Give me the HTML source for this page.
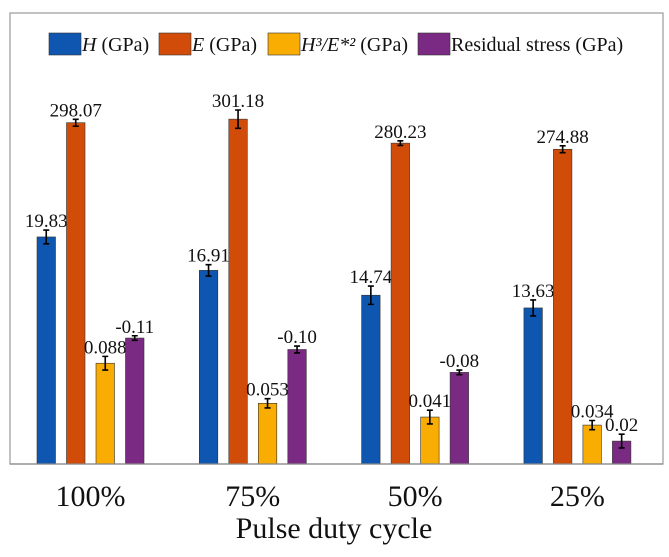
<!DOCTYPE html>
<html><head><meta charset="utf-8"><style>
body{margin:0;background:#fff;}
svg text{font-family:"Liberation Serif",serif;fill:#111;}
</style></head><body>
<svg width="669" height="552" xmlns="http://www.w3.org/2000/svg">
<rect x="10" y="13" width="653" height="451" fill="none" stroke="#999" stroke-width="1.2"/>
<g id="legend"></g>
<g id="bars"></g>
<text x="334" y="538" text-anchor="middle" font-size="30">Pulse duty cycle</text>
</svg>
<script>
const categories=["100%","75%","50%","25%"];
const hValues=[19.83,16.91,14.74,13.63];
const eValues=[298.07,301.18,280.23,274.88];
const heValues=[0.088,0.053,0.041,0.034];
const rsValues=[-0.11,-0.10,-0.08,0.02];
const hErr=[0.6,0.5,0.8,0.7];
const eErr=[3,8,2,3];
const heErr=[0.006,0.004,0.006,0.004];
const rsErr=[0.002,0.003,0.002,0.006];
const labels=[["19.83","16.91","14.74","13.63"],["298.07","301.18","280.23","274.88"],["0.088","0.053","0.041","0.034"],["-0.11","-0.10","-0.08","0.02"]];
const seriesScale=[1,0.1,100,100];
const colors=["#0f56b0","#d24c09","#f9ac02","#7b2a83"];
const names=["h","e","h3e2","residual-stress"];
const NS="http://www.w3.org/2000/svg";
const base=464,pxPerUnit=11.45;
const y=v=>base-v*pxPerUnit;
const groupX=i=>90.5+i*162.3;
const svg=document.querySelector('svg'),g=document.getElementById('bars');
function mk(t,a,p){const e=document.createElementNS(NS,t);for(const k in a)e.setAttribute(k,a[k]);(p||g).appendChild(e);return e;}
const series=[hValues,eValues,heValues,rsValues],errs=[hErr,eErr,heErr,rsErr];
categories.forEach((c,i)=>{
 const cx=groupX(i);
 series.forEach((vals,s)=>{
  const v=Math.abs(vals[i])*seriesScale[s],x=cx-53.5+s*29.5,w=18.5,top=y(v);
  const r=mk('rect',{x:x,y:top,width:w,height:base-top,fill:colors[s],stroke:'#333','stroke-width':0.6});
  
  
  const er=errs[s][i]*seriesScale[s]*pxPerUnit,mx=x+w/2;
  mk('path',{d:`M${mx} ${top-er}V${top+er}M${mx-3} ${top-er}H${mx+3}M${mx-3} ${top+er}H${mx+3}`,stroke:'#000','stroke-width':1.6,fill:'none'});
  const t=mk('text',{x:mx,y:top-er-3,'text-anchor':'middle','font-size':19});
  t.textContent=labels[s][i];
  
  
 });
 const t=mk('text',{x:cx,y:506,'text-anchor':'middle','font-size':30});
 t.textContent=c;
 
 
});
mk('line',{x1:10,y1:base,x2:663,y2:base,stroke:'#888','stroke-width':1.2});
const lg=document.getElementById('legend');
const legendItems=[["H"," (GPa)"],["E"," (GPa)"],["H³/E*²"," (GPa)"],["","Residual stress (GPa)"]];
const lx=[49,159,268,418];
legendItems.forEach((it,k)=>{
 const r=mk('rect',{x:lx[k],y:33,width:32,height:22,fill:colors[k],stroke:'#333','stroke-width':0.6},lg);
 
 
 const t=mk('text',{x:lx[k]+33,y:51,'font-size':20},lg);
 
 
 if(it[0]){const ts=document.createElementNS(NS,'tspan');ts.setAttribute('font-style','italic');ts.textContent=it[0];t.appendChild(ts);}
 const ts2=document.createElementNS(NS,'tspan');ts2.textContent=it[1];t.appendChild(ts2);
});
</script>
</body></html>
